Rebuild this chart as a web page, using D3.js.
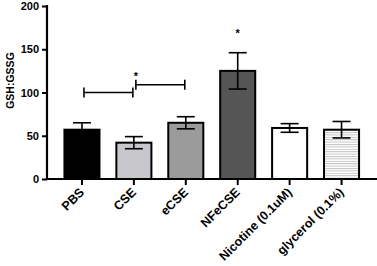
<!DOCTYPE html>
<html>
<head>
<meta charset="utf-8">
<script src="https://cdn.jsdelivr.net/npm/d3@7"></script>
<style>
  body { margin: 0; background: #fff; }
  svg { display: block; font-family: Arial, "Liberation Sans", sans-serif; }
</style>
</head>
<body>
<div id="chart"></div>
<script>
// groups and values
const groups = ["PBS", "CSE", "eCSE", "NFeCSE", "Nicotine (0.1uM)", "glycerol (0.1%)"];
const means = [57, 42, 65, 125, 59, 57];
const errors = [8, 7, 7, 21, 5, 9.5];
const fills = ["#000000", "#c8c8cc", "#9b9b9b", "#555555", "#ffffff", "url(#stripes)"];
const yTicks = [0, 50, 100, 150, 200];

// significance brackets: [from, to, height]
const brackets = [["PBS", "CSE", 100], ["CSE", "eCSE", 109]];
const stars = [{x: "CSE", y: 121, dx: 2}, {x: "NFeCSE", y: 171, dx: 0}];

const W = 377, H = 266;
const svg = d3.select("#chart").append("svg")
    .attr("width", W)
    .attr("height", H);

// striped fill for the glycerol bar
const pat = svg.append("defs").append("pattern")
    .attr("id", "stripes")
    .attr("patternUnits", "userSpaceOnUse")
    .attr("width", 6)
    .attr("height", 2.4);
pat.append("rect").attr("width", 6).attr("height", 2.4).attr("fill", "#fff");
pat.append("rect").attr("y", 0).attr("width", 6).attr("height", 1).attr("fill", "#c4c4c4");

const x = d3.scaleBand()
    .domain(groups)
    .range([56, 367.5])
    .paddingInner(0.325)
    .paddingOuter(0.1625);

const y = d3.scaleLinear()
    .domain([0, 200])
    .range([179, 6]);

const data = groups.map((g, i) => ({name: g, mean: means[i], err: errors[i], fill: fills[i]}));

// bars
const bars = svg.append("g");
bars.selectAll("rect")
    .data(data)
    .enter().append("rect")
    .attr("x", d => x(d.name))
    .attr("y", d => y(d.mean))
    .attr("width", x.bandwidth())
    .attr("height", d => y(0) - y(d.mean))
    .attr("fill", d => d.fill)
    .attr("stroke", "#000")
    .attr("stroke-width", 2);

// error bars (mean +/- err)
const cap = 9;
const eb = svg.append("g")
    .attr("stroke", "#000")
    .attr("stroke-width", 1.6)
    .attr("fill", "none");
data.forEach(d => {
    const cx = x(d.name) + x.bandwidth() / 2;
    eb.append("line")
        .attr("x1", cx).attr("x2", cx)
        .attr("y1", y(d.mean - d.err)).attr("y2", y(d.mean + d.err));
    eb.append("line")
        .attr("x1", cx - cap).attr("x2", cx + cap)
        .attr("y1", y(d.mean + d.err)).attr("y2", y(d.mean + d.err));
    eb.append("line")
        .attr("x1", cx - cap).attr("x2", cx + cap)
        .attr("y1", y(d.mean - d.err)).attr("y2", y(d.mean - d.err));
});

// axes
const yAxis = svg.append("g")
    .attr("transform", "translate(47,0)")
    .call(d3.axisLeft(y).tickValues(yTicks).tickSize(5).tickSizeOuter(0));
const xAxis = svg.append("g")
    .attr("transform", "translate(0,179)")
    .call(d3.axisBottom(x).tickSize(6).tickSizeOuter(0));

[xAxis, yAxis].forEach(a => {
    a.select(".domain").attr("stroke", "#000").attr("stroke-width", 2.2);
    a.selectAll(".tick line").attr("stroke", "#000").attr("stroke-width", 2);
});
xAxis.select(".domain").attr("d", "M47,0H377");
yAxis.select(".domain").attr("d", "M0,5V180");

yAxis.selectAll(".tick text")
    .attr("x", -8)
    .attr("font-size", 11)
    .attr("font-weight", "bold")
    .attr("fill", "#000");

// rotated category labels, ending just right of each tick
xAxis.selectAll(".tick text")
    .attr("font-size", 12.5)
    .attr("font-weight", "bold")
    .attr("fill", "#000")
    .attr("text-anchor", "end")
    .attr("dy", null)
    .attr("y", 0)
    .attr("transform", "translate(3,14) rotate(-45)");

svg.append("text")
    .attr("transform", `translate(14,${y(100) - 12}) rotate(-90)`)
    .attr("text-anchor", "middle")
    .attr("font-size", 10.5)
    .attr("font-weight", "bold")
    .attr("fill", "#000")
    .text("GSH:GSSG");

// significance brackets
const br = svg.append("g")
    .attr("stroke", "#000")
    .attr("stroke-width", 1.6)
    .attr("fill", "none");
brackets.forEach(([a, b, v]) => {
    const x1 = x(a) + x.bandwidth() / 2 + 2, x2 = x(b) + x.bandwidth() / 2 - 1;
    const yy = y(v);
    br.append("line").attr("x1", x1).attr("x2", x2).attr("y1", yy).attr("y2", yy);
    br.append("line").attr("x1", x1).attr("x2", x1).attr("y1", yy - 5).attr("y2", yy + 5);
    br.append("line").attr("x1", x2).attr("x2", x2).attr("y1", yy - 5).attr("y2", yy + 5);
});

svg.selectAll(".star")
    .data(stars)
    .enter().append("text")
    .attr("class", "star")
    .attr("x", d => x(d.x) + x.bandwidth() / 2 + d.dx)
    .attr("y", d => y(d.y) + 6)
    .attr("text-anchor", "middle")
    .attr("font-size", 11)
    .attr("font-weight", "bold")
    .attr("fill", "#000")
    .text("*");
</script>
</body>
</html>
